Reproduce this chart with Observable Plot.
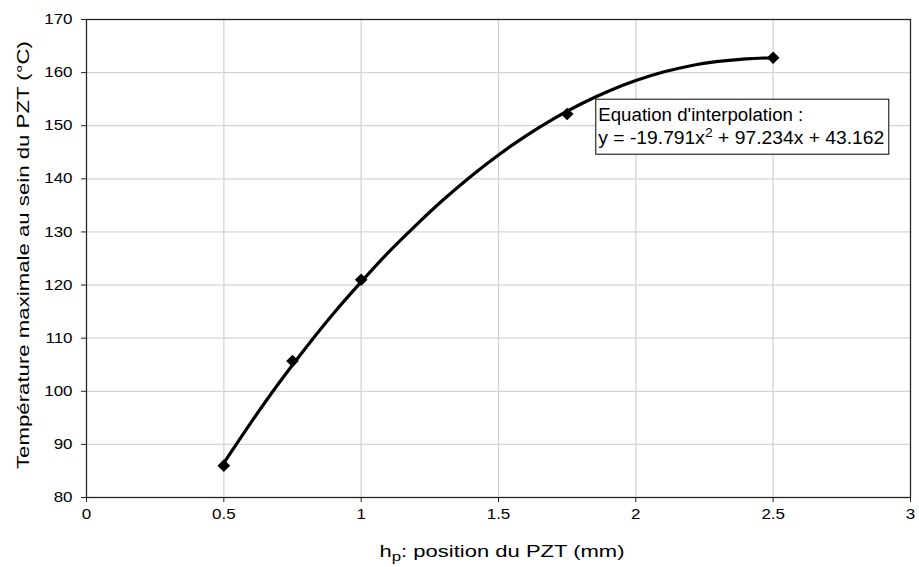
<!DOCTYPE html>
<html><head><meta charset="utf-8">
<script src="https://cdn.jsdelivr.net/npm/d3@7"></script>
<script src="https://cdn.jsdelivr.net/npm/@observablehq/plot@0.6"></script>
<style>
body{margin:0;background:#fff}
svg{font-family:"Liberation Sans",Arial,sans-serif}
</style>
</head><body><div id="chart"></div>
<script>
// measured points
const pointX = [0.5, 0.75, 1, 1.75, 2.5];
const pointY = [86, 105.7, 121, 152.2, 162.8];
// interpolation curve
const curveX = [0.5, 0.6, 0.7, 0.8, 0.9, 1.0, 1.1, 1.2, 1.3, 1.4, 1.5, 1.6, 1.7, 1.8, 1.9, 2.0, 2.1, 2.2, 2.3, 2.4, 2.5];
const curveY = [86.5, 94.2, 101.5, 108.3, 114.7, 120.6, 126.2, 131.3, 136.1, 140.5, 144.5, 148.1, 151.3, 154.1, 156.5, 158.5, 160.1, 161.3, 162.1, 162.6, 162.8];
const xTicks = [0, 0.5, 1, 1.5, 2, 2.5, 3];
const yTicks = [80, 90, 100, 110, 120, 130, 140, 150, 160, 170];
const xTitleMain = "h";
const xTitleSub = "p";
const xTitleRest = ": position du PZT (mm)";
const yTitle = "Température maximale au sein du PZT (°C)";
const eqLine1 = "Equation d'interpolation :";
const eqLine2a = "y = -19.791x";
const eqLine2sup = "2";
const eqLine2b = " + 97.234x + 43.162";

(function () {
const points = pointX.map((x, i) => ({x, y: pointY[i]}));
const curve = curveX.map((x, i) => ({x, y: curveY[i]}));

const plot = Plot.plot({
  width: 919, height: 567,
  marginLeft: 86, marginRight: 9, marginTop: 19, marginBottom: 70,
  style: {fontFamily: '"Liberation Sans", Arial, sans-serif', fontSize: "14.5px", color: "#000", background: "#fff"},
  x: {domain: [0, 3], label: null},
  y: {domain: [80, 170], label: null},
  marks: [
    Plot.gridX(xTicks, {stroke: "#d4d4d4", strokeOpacity: 1, strokeWidth: 1.3}),
    Plot.gridY(yTicks, {stroke: "#d4d4d4", strokeOpacity: 1, strokeWidth: 1.3}),
    Plot.frame({stroke: "#222", strokeWidth: 1.2}),
    Plot.axisX(xTicks, {tickSize: 5, tickPadding: 6, label: null, tickFormat: d => String(d), stroke: "#222"}),
    Plot.axisY(yTicks, {tickSize: 5, tickPadding: 9, label: null, stroke: "#222"}),
    Plot.line(curve, {x: "x", y: "y", stroke: "#000", strokeWidth: 3.2, curve: "catmull-rom"}),
    Plot.dot(points, {x: "x", y: "y", symbol: "diamond2", r: 5.7, fill: "#000", stroke: "none"})
  ]
});
document.getElementById("chart").appendChild(plot);

const svg = d3.select(plot);
// widen tick labels to match the reference's broad glyphs
svg.selectAll('g[aria-label$="tick label"] text').each(function () {
  const t = this.getAttribute("transform") || "";
  this.setAttribute("transform", t + " scale(1.17,1)");
});

const sx = plot.scale("x"), sy = plot.scale("y");
const pxLeft = sx.apply(0), pxRight = sx.apply(3);

// y title
svg.append("text")
  .attr("transform", `translate(28.5,255) rotate(-90)`)
  .attr("text-anchor", "middle")
  .attr("font-size", 17).attr("fill", "#000")
  .attr("textLength", 428).attr("lengthAdjust", "spacingAndGlyphs")
  .text(yTitle);

// x title with subscript
const xt = svg.append("text")
  .attr("x", (pxLeft + pxRight) / 2 + 4).attr("y", 557)
  .attr("text-anchor", "middle").attr("font-size", 17).attr("fill", "#000")
  .attr("textLength", 245).attr("lengthAdjust", "spacingAndGlyphs");
xt.append("tspan").text(xTitleMain);
xt.append("tspan").attr("font-size", 13).attr("dy", 4).text(xTitleSub);
xt.append("tspan").attr("dy", -4).text(xTitleRest);

// equation box
const bx = sx.apply(1.856), by = sy.apply(154.9);
const g = svg.append("g").attr("text-anchor", "start");
g.append("rect").attr("x", bx).attr("y", by).attr("width", 293).attr("height", 55)
  .attr("fill", "#fff").attr("stroke", "#000").attr("stroke-width", 1);
g.append("text").attr("x", bx + 2.5).attr("y", by + 22).attr("font-size", 18).attr("fill", "#000")
  .attr("textLength", 205).attr("lengthAdjust", "spacingAndGlyphs").text(eqLine1);
const t2 = g.append("text").attr("x", bx + 2.5).attr("y", by + 45).attr("font-size", 18).attr("fill", "#000")
  .attr("textLength", 286).attr("lengthAdjust", "spacingAndGlyphs");
t2.append("tspan").text(eqLine2a);
t2.append("tspan").attr("font-size", 13).attr("dy", -7).text(eqLine2sup);
t2.append("tspan").attr("dy", 7).text(eqLine2b);
})();
</script>
</body></html>
